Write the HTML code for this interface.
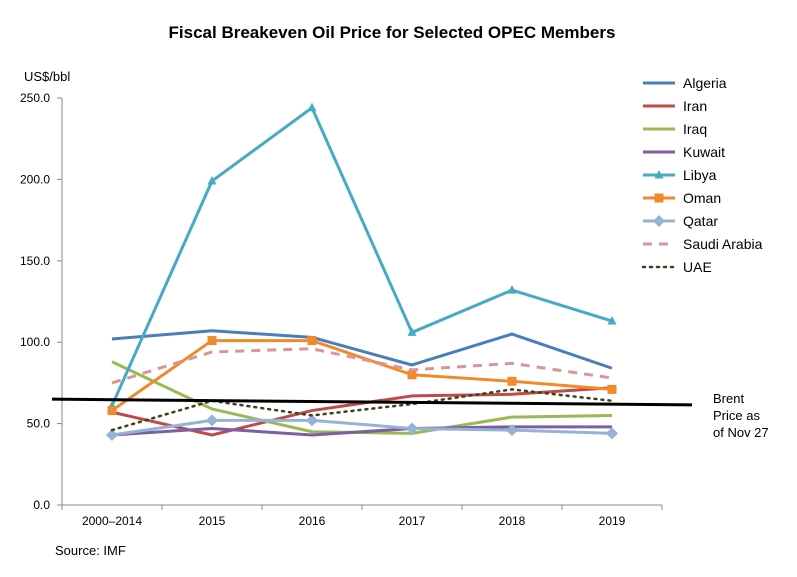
<!DOCTYPE html>
<html><head><meta charset="utf-8"><style>
body{margin:0;background:#fff;}
svg text{font-family:"Liberation Sans",Arial,sans-serif;}
</style></head><body>
<svg id="chart" width="797" height="572" viewBox="0 0 797 572" xmlns="http://www.w3.org/2000/svg">
<rect width="797" height="572" fill="#fff"/>
<text x="392" y="38" text-anchor="middle" font-size="17" font-weight="bold">Fiscal Breakeven Oil Price for Selected OPEC Members</text>
<text x="24" y="81" font-size="13">US$/bbl</text>
<text x="55" y="555" font-size="13">Source: IMF</text>
<g id="axes"></g>
<g id="series"></g>
<g id="legend"></g>
<text font-size="13"><tspan x="713" y="403">Brent</tspan><tspan x="713" y="420">Price as</tspan><tspan x="713" y="437">of Nov 27</tspan></text>
</svg>
<script>
const categories=["2000–2014","2015","2016","2017","2018","2019"];
const yTicks=[0,50,100,150,200,250];
const algeria=[102,107,103,86,105,84];
const iran=[57,43,58,67,68,72];
const iraq=[88,59,45,44,54,55];
const kuwait=[43,47,43,47,48,48];
const libya=[61,199,244,106,132,113];
const oman=[58,101,101,80,76,71];
const qatar=[43,52,52,47,46,44];
const saudi=[75,94,96,83,87,78];
const uae=[46,64,55,62,71,64];
const brent=[65,61.5];
const seriesNames=["Algeria","Iran","Iraq","Kuwait","Libya","Oman","Qatar","Saudi Arabia","UAE"];

const NS="http://www.w3.org/2000/svg";
const X0=62,X1=662,Y0=505,Y1=98;
const x=i=>X0+(i+0.5)*(X1-X0)/categories.length;
const y=v=>Y0-(v/250)*(Y0-Y1);
function mk(t,a,p){const e=document.createElementNS(NS,t);for(const k in a)e.setAttribute(k,a[k]);p.appendChild(e);return e;}
const axes=document.getElementById('axes'),ser=document.getElementById('series'),leg=document.getElementById('legend');

const yax=mk('line',{x1:X0,y1:Y1,x2:X0,y2:Y0,stroke:'#888','stroke-width':1},axes);


const xax=mk('line',{x1:X0,y1:Y0,x2:X1,y2:Y0,stroke:'#888','stroke-width':1},axes);


yTicks.forEach(v=>{
  mk('line',{x1:X0-5,x2:X0,y1:y(v),y2:y(v),stroke:'#888'},axes);
  const t=mk('text',{x:X0-12,y:y(v)+4,'text-anchor':'end','font-size':12},axes);
  t.textContent=v.toFixed(1);
  
  
});
for(let i=0;i<=categories.length;i++){const xx=X0+i*(X1-X0)/categories.length;mk('line',{x1:xx,x2:xx,y1:Y0,y2:Y0+5,stroke:'#888'},axes);}
categories.forEach((c,i)=>{
  const t=mk('text',{x:x(i),y:Y0+20,'text-anchor':'middle','font-size':12},axes);
  t.textContent=c;
  
  
});

const styles=[
 {d:algeria,c:'#4a7ebb'},{d:iran,c:'#be4b48'},{d:iraq,c:'#98b954'},{d:kuwait,c:'#7d5fa0'},
 {d:libya,c:'#46aac5',m:'tri'},{d:oman,c:'#f08a2c',m:'sq'},{d:qatar,c:'#95b3d7',m:'dia'},
 {d:saudi,c:'#d99694',dash:'9,7'},{d:uae,c:'#404020',dash:'2,5',cap:'round'}
];
function marker(m,cx,cy,c,p){
  if(m==='tri')return mk('polygon',{points:`${cx},${cy-5} ${cx-4.5},${cy+3.5} ${cx+4.5},${cy+3.5}`,fill:c},p);
  if(m==='sq')return mk('rect',{x:cx-4.5,y:cy-4.5,width:9,height:9,fill:c},p);
  if(m==='dia')return mk('polygon',{points:`${cx},${cy-6} ${cx+6},${cy} ${cx},${cy+6} ${cx-6},${cy}`,fill:c},p);
}
styles.forEach((s,k)=>{
  const g=mk('g',{},ser);
  
  
  const pts=s.d.map((v,i)=>x(i)+','+y(v)).join(' ');
  const a={points:pts,fill:'none',stroke:s.c,'stroke-width':s.cap?2.5:3,'stroke-linejoin':'round'};
  if(s.dash)a['stroke-dasharray']=s.dash;
  if(s.cap)a['stroke-linecap']=s.cap;
  mk('polyline',a,g);
  if(s.m)s.d.forEach((v,i)=>{
    const mm=marker(s.m,x(i),y(v),s.c,g);
    
    
  });
  // legend
  const ly=83+k*23;
  const lg=mk('g',{},leg);
  
  
  const la={x1:643,x2:675,y1:ly,y2:ly,stroke:s.c,'stroke-width':s.cap?2.5:3};
  if(s.dash)la['stroke-dasharray']=s.dash;
  if(s.cap)la['stroke-linecap']=s.cap;
  mk('line',la,lg);
  if(s.m)marker(s.m,659,ly,s.c,lg);
  const t=mk('text',{x:683,y:ly+5,'font-size':14},lg);
  t.textContent=seriesNames[k];
});
const bl=mk('line',{x1:X0-10,x2:X1+30,y1:y(brent[0]),y2:y(brent[1]),stroke:'#000','stroke-width':3},ser);


</script>
</body></html>
